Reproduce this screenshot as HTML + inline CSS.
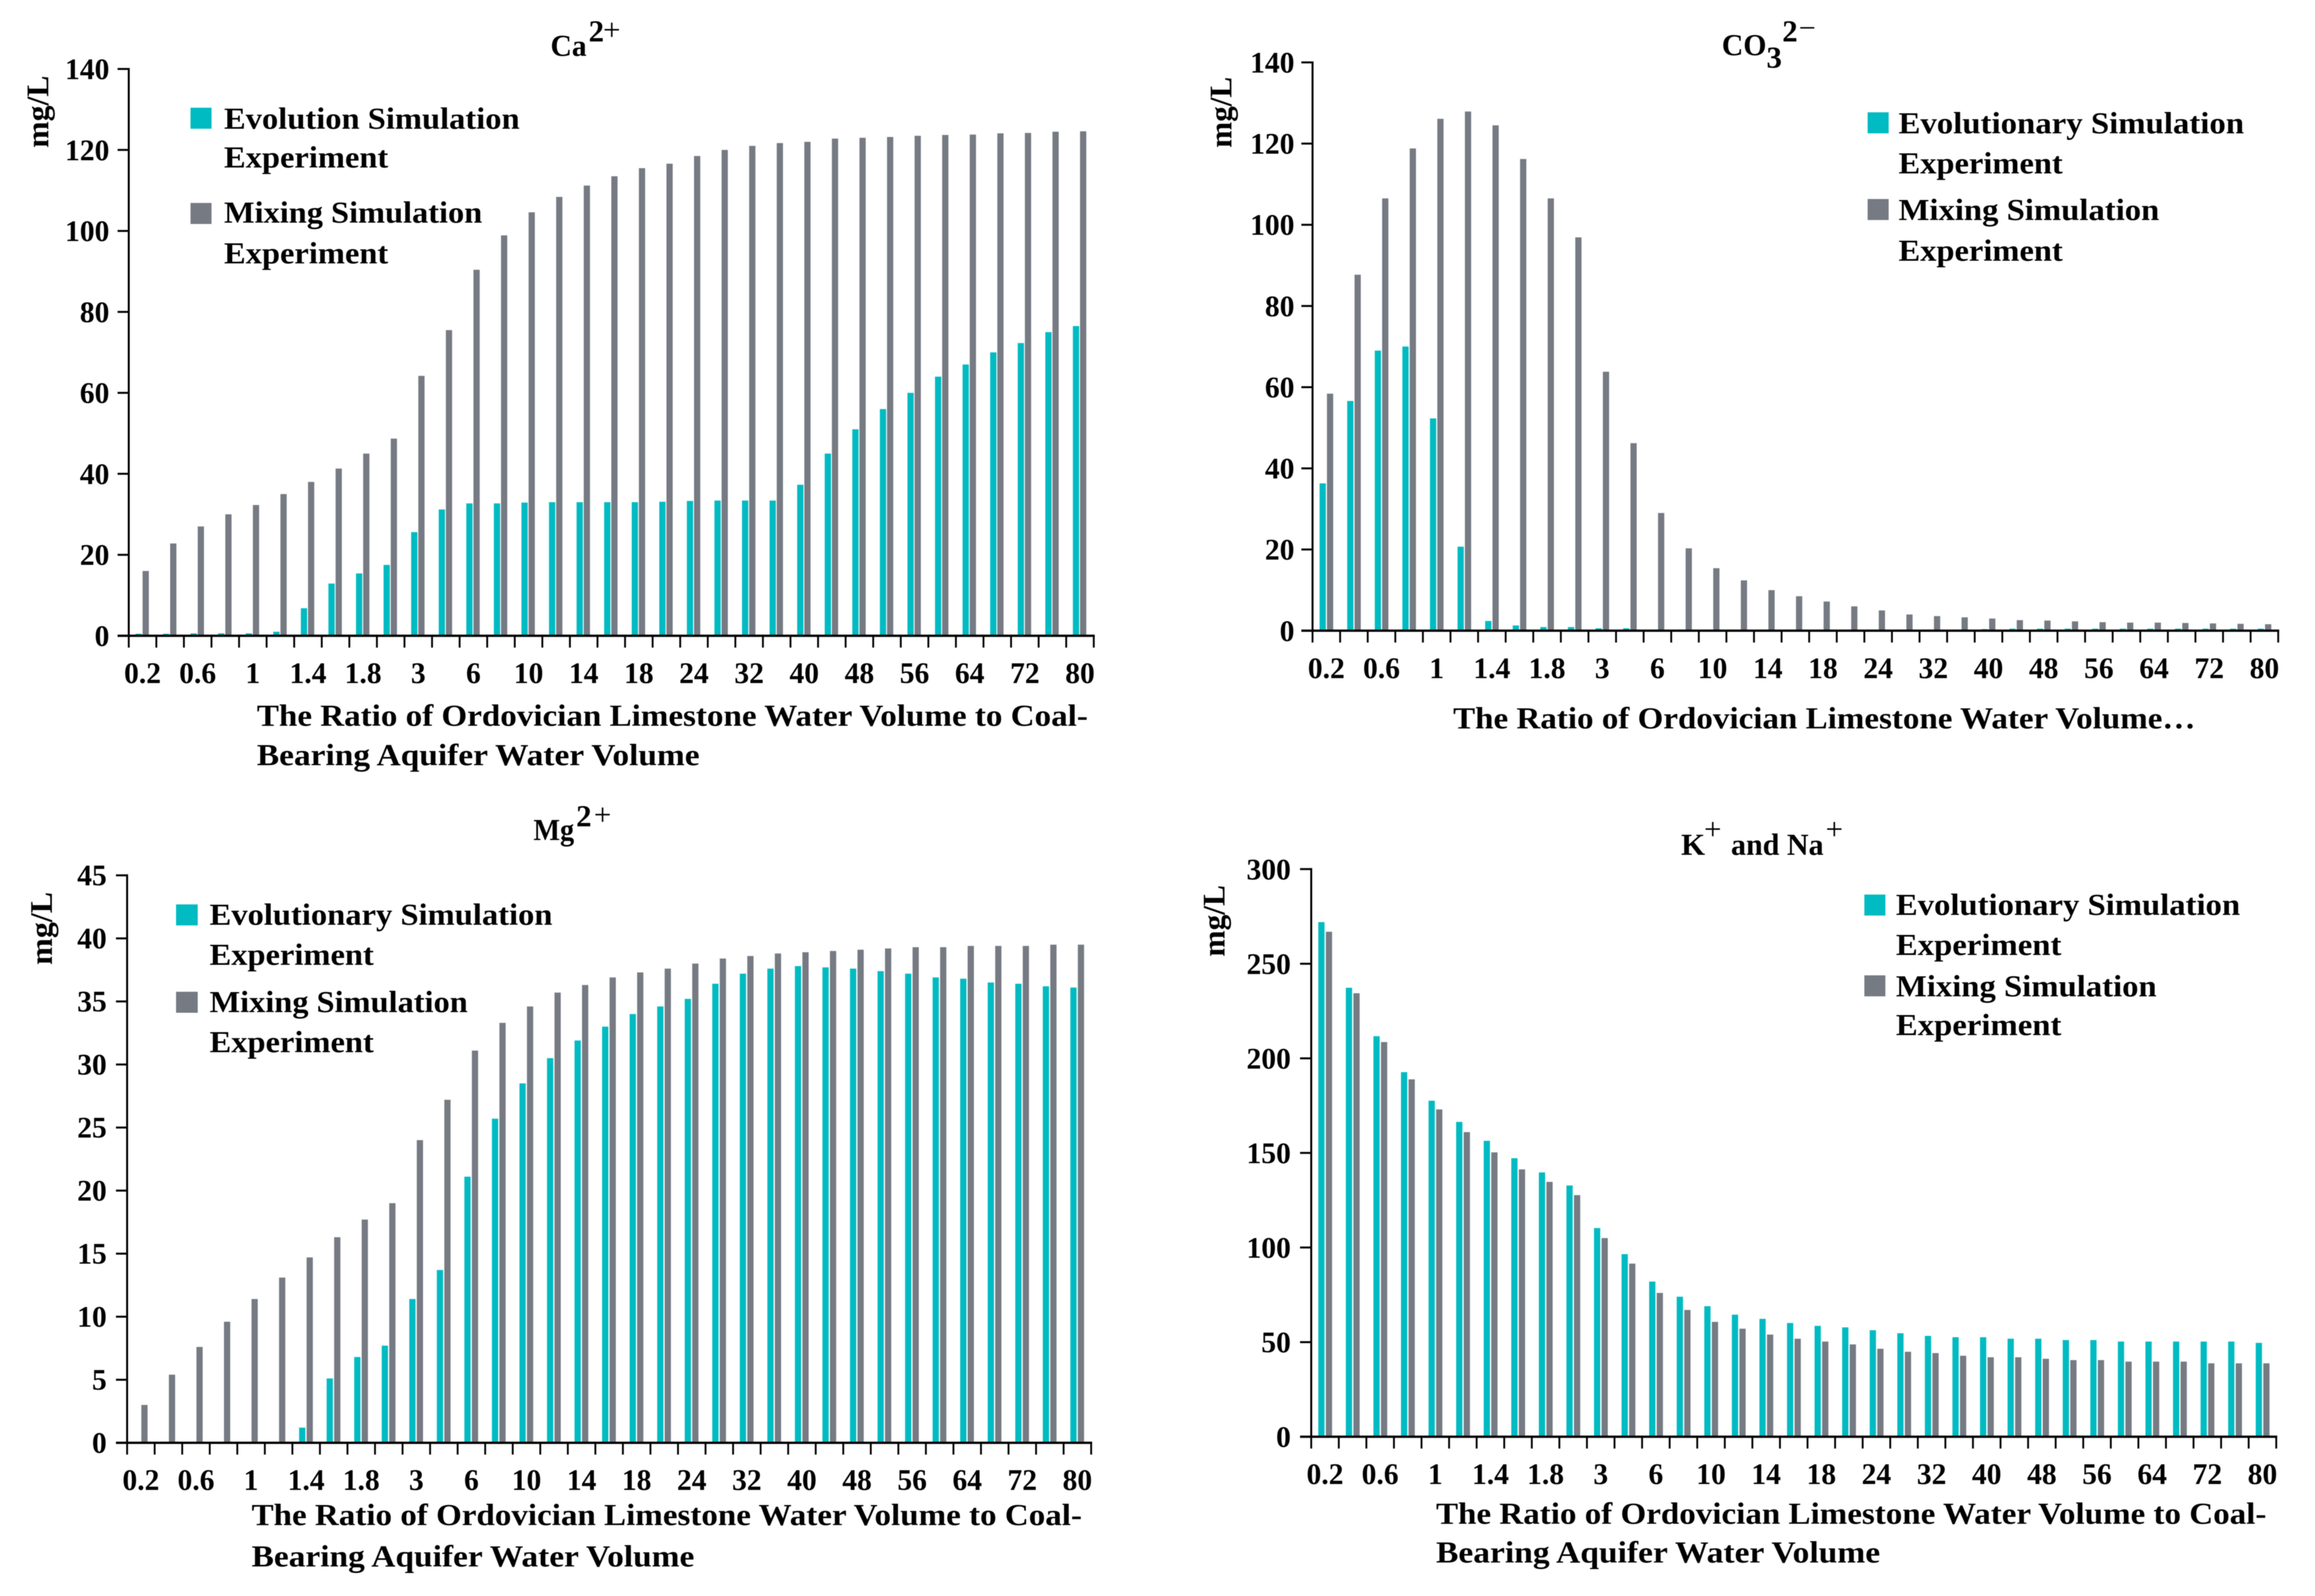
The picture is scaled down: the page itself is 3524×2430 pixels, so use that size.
<!DOCTYPE html>
<html lang="en">
<head>
<meta charset="utf-8">
<title>Ion concentrations by mixing ratio</title>
<style>
html,body{margin:0;padding:0;background:#fff;}
svg{display:block;filter:blur(0.6px);}
text{font-family:"Liberation Serif",serif;font-weight:bold;fill:#000;}
.leg,.xt,.ttl{font-size:47px;}
.yt{font-size:48px;}
.tk{font-size:45px;}
.sign{font-size:47px;font-weight:normal;}
</style>
</head>
<body>
<svg id="root" xmlns="http://www.w3.org/2000/svg" width="3524" height="2430" viewBox="0 0 3524 2430">
<rect x="0" y="0" width="3524" height="2430" fill="#fff"/>

<g id="panel-ca">
  <g>
    <text class="ttl" x="838" y="85" textLength="55" lengthAdjust="spacingAndGlyphs">Ca</text>
    <text class="ttl" x="896" y="63">2</text>
    <text class="sign" x="918" y="61">+</text>
  </g>
  <text class="yt" transform="translate(73.5,225) rotate(-90)" textLength="110" lengthAdjust="spacingAndGlyphs">mg/L</text>
  <g>
    <rect x="290" y="164" width="32" height="32" fill="#00BBC2"/>
    <text class="leg" x="341" y="196" textLength="450" lengthAdjust="spacingAndGlyphs">Evolution Simulation</text>
    <text class="leg" x="341" y="255" textLength="250" lengthAdjust="spacingAndGlyphs">Experiment</text>
    <rect x="290" y="309" width="32" height="32" fill="#767A83"/>
    <text class="leg" x="341" y="339" textLength="393" lengthAdjust="spacingAndGlyphs">Mixing Simulation</text>
    <text class="leg" x="341" y="401" textLength="250" lengthAdjust="spacingAndGlyphs">Experiment</text>
  </g>
  <g>
    <text class="xt" x="391" y="1105" textLength="1265" lengthAdjust="spacingAndGlyphs">The Ratio of Ordovician Limestone Water Volume to Coal-</text>
    <text class="xt" x="391" y="1165" textLength="674" lengthAdjust="spacingAndGlyphs">Bearing Aquifer Water Volume</text>
  </g>
</g>

<g id="panel-co3">
  <g>
    <text class="ttl" x="2621" y="84" textLength="68" lengthAdjust="spacingAndGlyphs">CO</text>
    <text class="ttl" x="2689" y="103">3</text>
    <text class="ttl" x="2713" y="63">2</text>
    <text class="sign" x="2738" y="58" textLength="26" lengthAdjust="spacingAndGlyphs">−</text>
  </g>
  <text class="yt" transform="translate(1874.5,225) rotate(-90)" textLength="108" lengthAdjust="spacingAndGlyphs">mg/L</text>
  <g>
    <rect x="2843" y="171" width="32" height="32" fill="#00BBC2"/>
    <text class="leg" x="2890" y="203" textLength="526" lengthAdjust="spacingAndGlyphs">Evolutionary Simulation</text>
    <text class="leg" x="2890" y="264" textLength="250" lengthAdjust="spacingAndGlyphs">Experiment</text>
    <rect x="2843" y="303" width="32" height="32" fill="#767A83"/>
    <text class="leg" x="2890" y="335" textLength="397" lengthAdjust="spacingAndGlyphs">Mixing Simulation</text>
    <text class="leg" x="2890" y="397" textLength="250" lengthAdjust="spacingAndGlyphs">Experiment</text>
  </g>
  <text class="xt" x="2212" y="1109" textLength="1130" lengthAdjust="spacingAndGlyphs">The Ratio of Ordovician Limestone Water Volume…</text>
</g>

<g id="panel-mg">
  <g>
    <text class="ttl" x="812" y="1279" textLength="62" lengthAdjust="spacingAndGlyphs">Mg</text>
    <text class="ttl" x="877" y="1258">2</text>
    <text class="sign" x="904" y="1256">+</text>
  </g>
  <text class="yt" transform="translate(79,1469) rotate(-90)" textLength="111" lengthAdjust="spacingAndGlyphs">mg/L</text>
  <g>
    <rect x="268" y="1377" width="33" height="32" fill="#00BBC2"/>
    <text class="leg" x="319" y="1408" textLength="522" lengthAdjust="spacingAndGlyphs">Evolutionary Simulation</text>
    <text class="leg" x="319" y="1469" textLength="250" lengthAdjust="spacingAndGlyphs">Experiment</text>
    <rect x="268" y="1510" width="33" height="32" fill="#767A83"/>
    <text class="leg" x="319" y="1541" textLength="393" lengthAdjust="spacingAndGlyphs">Mixing Simulation</text>
    <text class="leg" x="319" y="1602" textLength="250" lengthAdjust="spacingAndGlyphs">Experiment</text>
  </g>
  <g>
    <text class="xt" x="383" y="2322" textLength="1264" lengthAdjust="spacingAndGlyphs">The Ratio of Ordovician Limestone Water Volume to Coal-</text>
    <text class="xt" x="383" y="2385" textLength="674" lengthAdjust="spacingAndGlyphs">Bearing Aquifer Water Volume</text>
  </g>
</g>

<g id="panel-kna">
  <g>
    <text class="ttl" x="2559" y="1301.5">K</text>
    <text class="sign" x="2594" y="1278">+</text>
    <text class="ttl" x="2635" y="1301.5" textLength="141" lengthAdjust="spacingAndGlyphs">and Na</text>
    <text class="sign" x="2779" y="1278">+</text>
  </g>
  <text class="yt" transform="translate(1864,1456.5) rotate(-90)" textLength="109" lengthAdjust="spacingAndGlyphs">mg/L</text>
  <g>
    <rect x="2838" y="1362" width="32" height="32" fill="#00BBC2"/>
    <text class="leg" x="2886" y="1393" textLength="524" lengthAdjust="spacingAndGlyphs">Evolutionary Simulation</text>
    <text class="leg" x="2886" y="1454" textLength="252" lengthAdjust="spacingAndGlyphs">Experiment</text>
    <rect x="2838" y="1485" width="32" height="32" fill="#767A83"/>
    <text class="leg" x="2886" y="1517" textLength="397" lengthAdjust="spacingAndGlyphs">Mixing Simulation</text>
    <text class="leg" x="2886" y="1576" textLength="252" lengthAdjust="spacingAndGlyphs">Experiment</text>
  </g>
  <g>
    <text class="xt" x="2186" y="2320" textLength="1264" lengthAdjust="spacingAndGlyphs">The Ratio of Ordovician Limestone Water Volume to Coal-</text>
    <text class="xt" x="2186" y="2379" textLength="676" lengthAdjust="spacingAndGlyphs">Bearing Aquifer Water Volume</text>
  </g>
</g>
</svg>

<script>
// Shared category and tick-label data
const categories = ["0.2","0.4","0.6","0.8","1","1.2","1.4","1.6","1.8","2","3","4","6","8","10","12","14","16","18","20","24","28","32","36","40","44","48","52","56","60","64","68","72","76","80"];

// Ca2+ series (mg/L)
const caEvolution = [0.5,0.5,0.6,0.6,0.6,1,6.8,12.9,15.4,17.5,25.6,31.2,32.7,32.7,32.9,33,33,33,33,33.1,33.3,33.4,33.4,33.4,37.3,45,51,56,60,64,67,70,72.3,75,76.5];
const caMixing = [16,22.8,27,30,32.3,35,38,41.3,45,48.7,64.2,75.5,90.4,98.9,104.6,108.4,111.2,113.5,115.5,116.6,118.5,120,121,121.7,122,122.8,123,123.2,123.5,123.7,123.8,124.1,124.2,124.5,124.6];
const caTicks = [0,20,40,60,80,100,120,140];

// CO3 2- series (mg/L)
const co3Evolution = [36.3,56.6,69,70,52.3,20.7,2.4,1.3,0.9,0.9,0.6,0.6,0.3,0.3,0.3,0.3,0.3,0.3,0.3,0.3,0.3,0.3,0.3,0.3,0.4,0.5,0.5,0.5,0.5,0.5,0.5,0.5,0.5,0.5,0.5];
const co3Mixing = [58.4,87.7,106.5,118.8,126.1,127.9,124.5,116.2,106.5,96.9,63.8,46.2,29,20.3,15.4,12.4,10,8.5,7.2,6,5,4,3.6,3.3,3,2.6,2.5,2.3,2.1,2,2,1.9,1.8,1.7,1.6];
const co3Ticks = [0,20,40,60,80,100,120,140];

// Mg2+ series (mg/L)
const mgEvolution = [0,0,0,0,0,0,1.2,5.1,6.8,7.7,11.4,13.7,21.1,25.7,28.5,30.5,31.9,33,34,34.6,35.2,36.4,37.2,37.6,37.8,37.7,37.6,37.4,37.2,36.9,36.8,36.5,36.4,36.2,36.1];
const mgMixing = [3,5.4,7.6,9.6,11.4,13.1,14.7,16.3,17.7,19,24,27.2,31.1,33.3,34.6,35.7,36.3,36.9,37.3,37.6,38,38.4,38.6,38.8,38.9,39,39.1,39.2,39.3,39.3,39.4,39.4,39.4,39.5,39.5];
const mgTicks = [0,5,10,15,20,25,30,35,40,45];

// K+ and Na+ series (mg/L)
const knaEvolution = [272,237.3,211.7,192.7,177.6,166.4,156.4,147.2,139.7,132.8,110.3,96.5,82,74,69,64.5,62.3,60.1,58.6,57.8,56.3,54.7,53.3,52.6,52.6,51.8,51.8,51.1,51.1,50.3,50.3,50.3,50.3,50.3,49.6];
const knaMixing = [266.9,234.4,208.6,188.9,173,161,150.3,141.3,134.7,127.7,105,91.5,76,67,60.7,57.1,54,51.8,50.3,48.8,46.5,44.9,44.2,42.8,42,42,41.2,40.5,40.5,39.7,39.7,39.7,38.8,38.8,38.8];
const knaTicks = [0,50,100,150,200,250,300];

const SVGNS = 'http://www.w3.org/2000/svg';

function drawPanel(panelId, layout, evolution, mixing, yTicks) {
  const panel = document.getElementById(panelId);
  const n = categories.length;
  const step = (layout.xRight - layout.xAxis) / n;
  const yMax = yTicks[yTicks.length - 1];
  const xBand = function (i) { return layout.xAxis + i * step; };
  const yPos = function (v) { return layout.y0 + (layout.yTop - layout.y0) * v / yMax; };

  const bars = document.createElementNS(SVGNS, 'g');
  
  
  panel.appendChild(bars);

  categories.forEach(function (c, i) {
    const e = document.createElementNS(SVGNS, 'rect');
    
    
    e.setAttribute('x', xBand(i) + layout.tealOffset - 4.75);
    e.setAttribute('y', yPos(evolution[i]));
    e.setAttribute('width', 9.5);
    e.setAttribute('height', Math.max(0, layout.y0 - yPos(evolution[i])));
    e.setAttribute('fill', '#00BBC2');
    bars.appendChild(e);

    const m = document.createElementNS(SVGNS, 'rect');
    
    
    m.setAttribute('x', xBand(i) + layout.grayOffset - 4.75);
    m.setAttribute('y', yPos(mixing[i]));
    m.setAttribute('width', 9.5);
    m.setAttribute('height', Math.max(0, layout.y0 - yPos(mixing[i])));
    m.setAttribute('fill', '#767A83');
    bars.appendChild(m);
  });

  const axis = document.createElementNS(SVGNS, 'g');
  
  
  axis.setAttribute('stroke', '#000');
  panel.appendChild(axis);

  const yLine = document.createElementNS(SVGNS, 'line');
  
  
  yLine.setAttribute('x1', layout.xAxis);
  yLine.setAttribute('x2', layout.xAxis);
  yLine.setAttribute('y1', layout.yTop - 1.5);
  yLine.setAttribute('y2', layout.y0);
  yLine.setAttribute('stroke-width', 3);
  axis.appendChild(yLine);

  const xLine = document.createElementNS(SVGNS, 'line');
  
  
  xLine.setAttribute('x1', layout.xAxis - 17);
  xLine.setAttribute('x2', layout.xRight + 1.5);
  xLine.setAttribute('y1', layout.y0);
  xLine.setAttribute('y2', layout.y0);
  xLine.setAttribute('stroke-width', 3.5);
  axis.appendChild(xLine);

  yTicks.forEach(function (t) {
    const mark = document.createElementNS(SVGNS, 'line');
    
    
    mark.setAttribute('x1', layout.xAxis - 17);
    mark.setAttribute('x2', layout.xAxis);
    mark.setAttribute('y1', yPos(t));
    mark.setAttribute('y2', yPos(t));
    mark.setAttribute('stroke-width', 3);
    axis.appendChild(mark);

    const label = document.createElementNS(SVGNS, 'text');
    
    
    label.setAttribute('class', 'tk');
    label.setAttribute('text-anchor', 'end');
    label.setAttribute('stroke', 'none');
    label.setAttribute('x', layout.yLabelX);
    label.setAttribute('y', yPos(t) + 15.5);
    label.textContent = t;
    axis.appendChild(label);
  });

  for (let i = 0; i <= n; i++) {
    const mark = document.createElementNS(SVGNS, 'line');
    
    
    mark.setAttribute('x1', xBand(i));
    mark.setAttribute('x2', xBand(i));
    mark.setAttribute('y1', layout.y0);
    mark.setAttribute('y2', layout.y0 + 18);
    mark.setAttribute('stroke-width', 2.8);
    axis.appendChild(mark);
  }

  categories.forEach(function (c, i) {
    if (i % 2 !== 0) return;
    const label = document.createElementNS(SVGNS, 'text');
    
    
    label.setAttribute('class', 'tk');
    label.setAttribute('text-anchor', 'middle');
    label.setAttribute('stroke', 'none');
    label.setAttribute('x', xBand(i) + step / 2);
    label.setAttribute('y', layout.y0 + 72);
    label.textContent = c;
    axis.appendChild(label);
  });
}

drawPanel('panel-ca',  {xAxis:196,  xRight:1665, y0:968,    yTop:105,    yLabelX:166.5, tealOffset:14.9, grayOffset:25.8}, caEvolution,  caMixing,  caTicks);
drawPanel('panel-co3', {xAxis:1998, xRight:3468, y0:960.3,  yTop:95,     yLabelX:1970.5,tealOffset:15.5, grayOffset:26.7}, co3Evolution, co3Mixing, co3Ticks);
drawPanel('panel-mg',  {xAxis:193.5,xRight:1661, y0:2196.7, yTop:1332.7, yLabelX:162.5, tealOffset:15,   grayOffset:26.4}, mgEvolution,  mgMixing,  mgTicks);
drawPanel('panel-kna', {xAxis:1996, xRight:3465, y0:2187.5, yTop:1323.3, yLabelX:1965,  tealOffset:15.5, grayOffset:27},   knaEvolution, knaMixing, knaTicks);
</script>
</body>
</html>
